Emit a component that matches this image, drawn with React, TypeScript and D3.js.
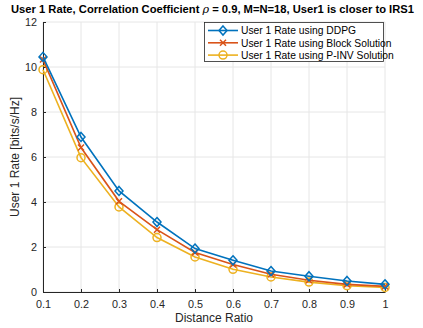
import React, { useEffect, useRef } from 'react';
import * as d3 from 'd3';

// distance ratio values on the x axis
const ratios = [0.1, 0.2, 0.3, 0.4, 0.5, 0.6, 0.7, 0.8, 0.9, 1];
// user 1 rate [bits/s/Hz] for each method
const ddpg = [10.45, 6.89, 4.49, 3.11, 1.93, 1.41, 0.93, 0.7, 0.49, 0.34];
const block = [10.33, 6.42, 4.03, 2.77, 1.76, 1.22, 0.79, 0.52, 0.34, 0.25];
const pinv = [9.88, 5.97, 3.78, 2.42, 1.56, 1.01, 0.67, 0.44, 0.28, 0.2];
const seriesNames = [
  'User 1 Rate using DDPG',
  'User 1 Rate using Block Solution',
  'User 1 Rate using P-INV Solution',
];
const xTicks = [0.1, 0.2, 0.3, 0.4, 0.5, 0.6, 0.7, 0.8, 0.9, 1];
const yTicks = [0, 2, 4, 6, 8, 10, 12];

function App() {
  const svgRef = useRef<SVGSVGElement>(null);

  useEffect(() => {
    const svg = d3.select(svgRef.current);
    svg.selectAll('*').remove();
    const width = 423,
      height = 328;
    const margin = { left: 43, right: 38, top: 22, bottom: 36 };
    const font = '"Liberation Sans", Arial, sans-serif';
    const axisColor = '#262626';

    const x = d3.scaleLinear().domain([0.1, 1]).range([margin.left, width - margin.right]);
    const y = d3.scaleLinear().domain([0, 12]).range([height - margin.bottom, margin.top]);

    svg.append('rect').attr('width', width).attr('height', height).attr('fill', 'white');

    // grid
    const grid = svg.append('g');
    grid
      .selectAll('.gx')
      .data(xTicks)
      .join('line')
      .attr('x1', (d) => x(d))
      .attr('x2', (d) => x(d))
      .attr('y1', y(0))
      .attr('y2', y(12))
      .attr('stroke', '#e6e6e6')
      .attr('stroke-width', 1);
    grid
      .selectAll('.gy')
      .data(yTicks)
      .join('line')
      .attr('x1', x(0.1))
      .attr('x2', x(1))
      .attr('y1', (d) => y(d))
      .attr('y2', (d) => y(d))
      .attr('stroke', '#e6e6e6')
      .attr('stroke-width', 1);

    // axes, ticks pointing inward like matlab
    const xAxis = svg
      .append('g')
      .attr('transform', `translate(0,${y(0)})`)
      .call(d3.axisBottom(x).tickValues(xTicks).tickSize(-3).tickSizeOuter(0).tickPadding(8).tickFormat(d3.format('~g')));
    const yAxis = svg
      .append('g')
      .attr('transform', `translate(${x(0.1)},0)`)
      .call(d3.axisLeft(y).tickValues(yTicks).tickSize(-3).tickSizeOuter(0).tickPadding(6));
    [xAxis, yAxis].forEach((a) => {
      a.selectAll('path').attr('stroke', axisColor);
      a.selectAll('line').attr('stroke', axisColor);
      a.selectAll('text').attr('fill', axisColor).style('font-family', font).style('font-size', '10.8px');
    });

    const colors = ['#0072BD', '#D95319', '#EDB120'];
    const allSeries = [ddpg, block, pinv];
    const line = d3
      .line<number>()
      .x((d, i) => x(ratios[i]))
      .y((d) => y(d));

    const drawMarker = (g: any, kind: number, cx: number, cy: number, color: string) => {
      if (kind === 0) {
        g.append('path')
          .attr('d', `M${cx},${cy - 4.5}L${cx + 4},${cy}L${cx},${cy + 4.5}L${cx - 4},${cy}Z`)
          .attr('fill', 'none')
          .attr('stroke', color)
          .attr('stroke-width', 1.5);
      } else if (kind === 1) {
        g.append('path')
          .attr('d', `M${cx - 3},${cy - 3}L${cx + 3},${cy + 3}M${cx - 3},${cy + 3}L${cx + 3},${cy - 3}`)
          .attr('stroke', color)
          .attr('stroke-width', 1.5);
      } else {
        g.append('circle')
          .attr('cx', cx)
          .attr('cy', cy)
          .attr('r', 4)
          .attr('fill', 'none')
          .attr('stroke', color)
          .attr('stroke-width', 1.5);
      }
    };

    // draw in reverse so blue is on top
    [2, 1, 0].forEach((k) => {
      const g = svg.append('g');
      g.append('path')
        .datum(allSeries[k])
        .attr('d', line)
        .attr('fill', 'none')
        .attr('stroke', colors[k])
        .attr('stroke-width', 1.6);
      allSeries[k].forEach((v, i) => drawMarker(g, k, x(ratios[i]), y(v), colors[k]));
    });

    // title
    const title = svg
      .append('text')
      .attr('x', width / 2 + 1)
      .attr('y', 12.5)
      .attr('text-anchor', 'middle')
      .style('font-family', font)
      .style('font-size', '11.2px')
      .style('font-weight', 'bold')
      .attr('fill', '#000');
    title.append('tspan').text('User 1 Rate, Correlation Coefficient ');
    title
      .append('tspan')
      .style('font-family', '"DejaVu Serif", serif')
      .style('font-style', 'italic')
      .style('font-weight', 'normal')
      .text('ρ');
    title.append('tspan').text(' = 0.9, M=N=18, User1 is closer to IRS1');

    // axis labels
    svg
      .append('text')
      .attr('x', (x(0.1) + x(1)) / 2)
      .attr('y', 322)
      .attr('text-anchor', 'middle')
      .style('font-family', font)
      .style('font-size', '12px')
      .attr('fill', axisColor)
      .text('Distance Ratio');
    svg
      .append('text')
      .attr('transform', `translate(19,${(y(0) + y(12)) / 2}) rotate(-90)`)
      .attr('text-anchor', 'middle')
      .style('font-family', font)
      .style('font-size', '12px')
      .attr('fill', axisColor)
      .text('User 1 Rate [bits/s/Hz]');

    // legend
    const lg = svg.append('g');
    lg.append('rect')
      .attr('x', 204.5)
      .attr('y', 22.5)
      .attr('width', 179)
      .attr('height', 39)
      .attr('fill', 'white')
      .attr('stroke', axisColor)
      .attr('stroke-width', 0.8);
    seriesNames.forEach((name, k) => {
      const ly = 30.5 + k * 12.3;
      lg.append('line')
        .attr('x1', 208)
        .attr('x2', 238)
        .attr('y1', ly)
        .attr('y2', ly)
        .attr('stroke', colors[k])
        .attr('stroke-width', 1.6);
      drawMarker(lg, k, 223, ly, colors[k]);
      lg.append('text')
        .attr('x', 241)
        .attr('y', ly + 3.8)
        .style('font-family', font)
        .style('font-size', '10.3px')
        .attr('fill', '#000')
        .text(name);
    });
  }, []);

  return (
    <svg
      ref={svgRef}
      width={423}
      height={328}
      style={{ position: 'absolute', left: 0, top: 0 }}
    />
  );
}

export default App;
